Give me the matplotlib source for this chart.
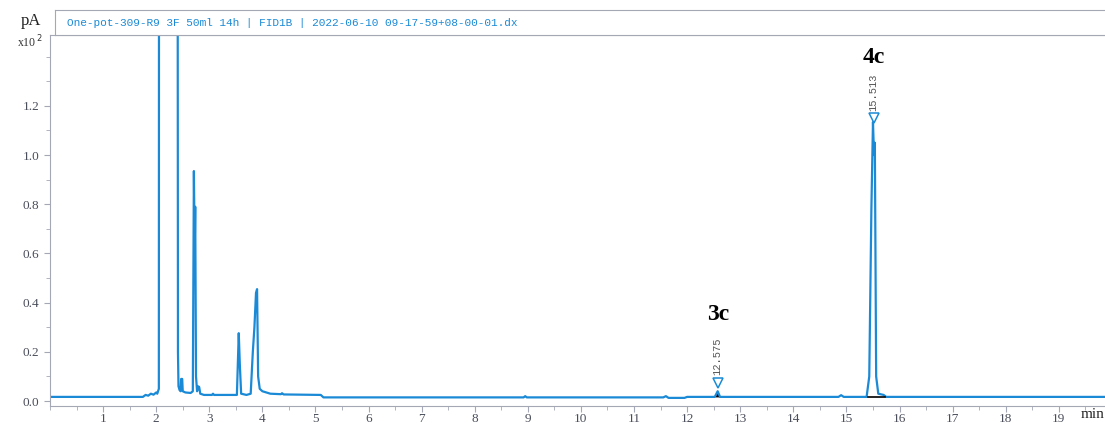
import numpy as np
import matplotlib
matplotlib.use("Agg")
import matplotlib.pyplot as plt
from matplotlib.ticker import MultipleLocator

# chromatogram trace (time in min, signal in pA x10^2)
time = [0.0, 1.75, 1.8, 1.85, 1.9, 1.95, 2.0, 2.02, 2.05, 2.06, 2.39, 2.41, 2.42,
        2.44, 2.46, 2.47, 2.49, 2.50, 2.55, 2.65, 2.69, 2.71, 2.725, 2.735, 2.75,
        2.77, 2.79, 2.81, 2.83, 2.9, 3.05, 3.07, 3.09, 3.52, 3.555, 3.575, 3.6,
        3.7, 3.78, 3.82, 3.85, 3.88, 3.90, 3.92, 3.95, 4.0, 4.15, 4.35, 4.37, 4.4,
        5.1, 5.15, 8.92, 8.95, 8.98, 11.55, 11.6, 11.65, 11.95, 12.0, 12.52,
        12.575, 12.62, 14.85, 14.9, 14.95, 15.38, 15.43, 15.47, 15.50, 15.52,
        15.535, 15.56, 15.6, 15.7, 15.75, 19.9]
signal = [0.017, 0.017, 0.025, 0.022, 0.03, 0.026, 0.035, 0.03, 0.05, 6.0, 6.0, 0.2,
          0.06, 0.045, 0.04, 0.09, 0.09, 0.04, 0.035, 0.033, 0.04, 0.935, 0.6, 0.79,
          0.1, 0.04, 0.06, 0.057, 0.03, 0.025, 0.025, 0.03, 0.025, 0.025, 0.276,
          0.15, 0.03, 0.025, 0.03, 0.2, 0.3, 0.44, 0.455, 0.1, 0.05, 0.04, 0.03,
          0.028, 0.032, 0.027, 0.025, 0.015, 0.015, 0.02, 0.015, 0.015, 0.02,
          0.013, 0.013, 0.017, 0.017, 0.04, 0.017, 0.017, 0.024, 0.017, 0.017, 0.1,
          0.78, 1.134, 1.0, 1.05, 0.1, 0.03, 0.025, 0.017, 0.017]

# labelled peaks
peak_rt = [12.575, 15.513]
peak_marker_y = [0.075, 1.15]
peak_names = ["3c", "4c"]
peak_name_y = [0.31, 1.355]

title = "One-pot-309-R9 3F 50ml 14h | FID1B | 2022-06-10 09-17-59+08-00-01.dx"

blue = "#1b8ad6"
grey = "#a4a8b4"
tick_col = "#4a4e5a"

W, H = 1105, 423
fig = plt.figure(figsize=(W / 100, H / 100), dpi=100)
# plot area: left spine x=50, bottom spine y=406, top y=35
ax = fig.add_axes([50 / W, (H - 406) / H, 1 - 50 / W, (406 - 35) / H])

ax.plot(time, signal, color=blue, lw=1.6)

# integration baselines
t = np.array(time)
s = np.array(signal)
m = (t >= 12.52) & (t <= 12.62)
ax.fill_between(t[m], 0.017, s[m], color="black", lw=0)
ax.plot([15.40, 15.72], [0.017, 0.017], color="black", lw=1.2)

for rt, my, name, ny in zip(peak_rt, peak_marker_y, peak_names, peak_name_y):
    ax.plot(rt, my, marker="v", ms=7, mfc="white", mec=blue, mew=1.1, zorder=5)
    ax.text(rt, my + 0.03, f"{rt:.3f}", rotation=90, ha="center", va="bottom",
            fontsize=7.5, color="#555555", family="Liberation Mono")
    ax.text(rt, ny, name, ha="center", va="bottom", fontsize=17, fontweight="bold",
            family="Liberation Serif")

ax.set_xlim(0, 19.87)
ax.set_ylim(-0.02, 1.488)
ax.xaxis.set_minor_locator(MultipleLocator(0.5))
ax.yaxis.set_minor_locator(MultipleLocator(0.1))
ax.set_xticks(range(1, 20))
ax.set_yticks(np.arange(0, 1.21, 0.2))
ax.set_yticklabels([f"{v:.1f}" for v in np.arange(0, 1.21, 0.2)])
ax.tick_params(which="both", direction="out", color=grey, labelcolor=tick_col,
               labelsize=9.5)
ax.tick_params(axis="x", which="both", pad=1)
ax.tick_params(which="major", length=4)
ax.tick_params(which="minor", length=3)
for lab in ax.get_xticklabels() + ax.get_yticklabels():
    lab.set_family("Liberation Serif")
for side in ["left", "bottom", "top"]:
    ax.spines[side].set_color(grey)
ax.spines["right"].set_visible(False)

fig.text(1.0, 1 - 414 / H, "min", ha="right", va="center",
         fontsize=11, family="Liberation Serif", color="#222222")

# header box
hx = fig.add_axes([55 / W, 1 - 35 / H, 1 - 55 / W, 25 / H])
hx.set_xticks([])
hx.set_yticks([])
for sp in hx.spines.values():
    sp.set_color(grey)
hx.spines["right"].set_visible(False)
hx.text(12 / (W - 55), 0.5, title, transform=hx.transAxes, va="center", ha="left",
        fontsize=8, color=blue, family="Liberation Mono")

fig.text(31 / W, 1 - 21 / H, "pA", ha="center", va="center", fontsize=12,
         family="Liberation Serif", color="#222222")
fig.text(30 / W, 1 - 42 / H, r"x10$^{\,2}$", ha="center", va="center",
         fontsize=8.5, family="Liberation Serif", color="#333333")

fig.savefig("out.png", dpi=100)
